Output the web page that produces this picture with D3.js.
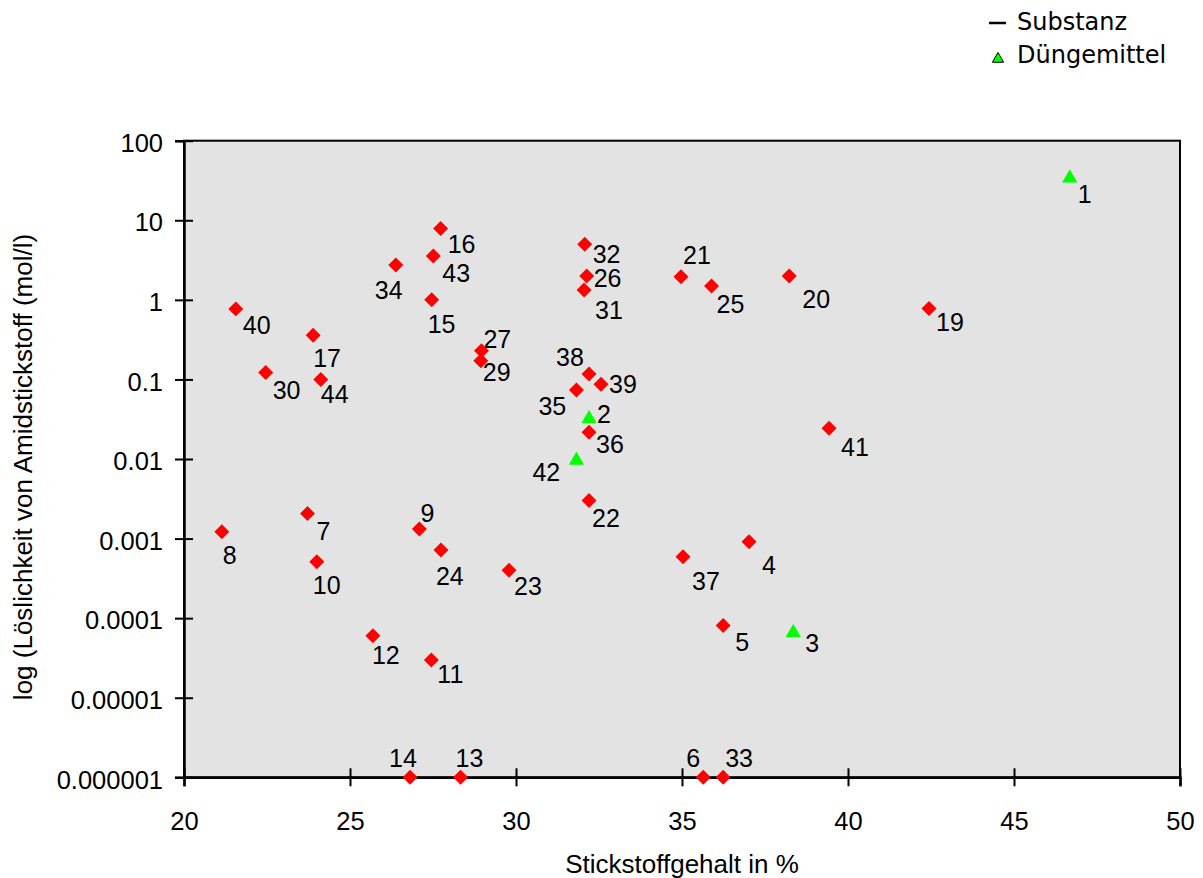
<!DOCTYPE html>
<html>
<head>
<meta charset="utf-8">
<script src="https://cdn.jsdelivr.net/npm/d3@7"></script>
<style>
  html, body { margin: 0; padding: 0; background: #fff; }
  svg { display: block; }
  text { font-family: "Liberation Sans", Arial, sans-serif; fill: #000; }
</style>
</head>
<body>
<svg id="chart" width="1203" height="878"></svg>
<script>
// ---- data ----
const substanzIds = [4,5,6,7,8,9,10,11,12,13,14,15,16,17,19,20,21,22,23,24,25,26,27,29,30,31,32,33,34,35,36,37,38,39,40,41,43,44];
const substanzN   = [37.02,36.24,35.64,23.72,21.14,27.09,24.00,27.45,25.69,28.33,26.81,27.46,27.73,23.89,42.44,38.23,34.97,32.20,29.79,27.74,35.89,32.13,28.96,28.94,22.46,32.05,32.07,36.24,26.38,31.82,32.20,35.03,32.20,32.56,21.56,39.43,27.51,24.12];
const substanzSol = [9.1e-4,8.1e-5,1e-6,2.06e-3,1.22e-3,1.32e-3,5.1e-4,2.98e-5,6.0e-5,1e-6,1e-6,1.0,7.9,0.36,0.78,2.0,1.95,3.0e-3,4.0e-4,7.2e-4,1.49,2.0,0.23,0.172,0.122,1.33,5.0,1e-6,2.74,0.0736,0.0217,5.9e-4,0.117,0.087,0.77,0.0243,3.56,0.10];

const duengerIds = [1,2,3,42];
const duengerN   = [46.68,32.20,38.35,31.82];
const duengerSol = [36,0.034,6.95e-5,0.0102];

const xTicks = [20,25,30,35,40,45,50];
const yTicks = [1e-6,1e-5,1e-4,1e-3,1e-2,0.1,1,10,100];
const yTickLabels = ["0.000001","0.00001","0.0001","0.001","0.01","0.1","1","10","100"];
const legendLabels = ["Substanz","Düngemittel"];
const xTitle = "Stickstoffgehalt in %";
const yTitle = "log (Löslichkeit von Amidstickstoff (mol/l)";

// label placement (offset of label start/baseline from its marker), by point id
const labelOffset = {
  1:[8,27], 2:[8,6], 3:[12,21], 4:[13,32], 5:[12,26], 6:[-17,-10], 7:[9,26], 8:[1,32],
  9:[1,-7], 10:[-4,32], 11:[6,23], 12:[-1,28], 13:[-5,-10], 14:[-21,-10], 15:[-4,33],
  16:[7,25], 17:[0,32], 19:[7,23], 20:[13,32], 21:[2,-13], 22:[3,26], 23:[5,25],
  24:[-5,35], 25:[5,27], 26:[7,11], 27:[2,-3], 29:[2,20], 30:[7,26], 31:[11,29],
  32:[8,19], 33:[2,-10], 34:[-21,34], 35:[-38,25], 36:[7,21], 37:[9,33], 38:[-33,-8],
  39:[8,9], 40:[7,25], 41:[12,28], 42:[-44,23], 43:[9,26], 44:[0,24]
};

// ---- layout ----
const plot = { left: 184, right: 1180, top: 140.7, bottom: 777.3 };
const svg = d3.select("#chart");

const x = d3.scaleLinear().domain([20, 50]).range([plot.left, plot.right]);
const y = d3.scaleLog().domain([1e-6, 100]).range([plot.bottom, plot.top]);

// plot background + frame
svg.append("rect")
  .attr("x", plot.left).attr("y", plot.top)
  .attr("width", plot.right - plot.left).attr("height", plot.bottom - plot.top)
  .attr("fill", "#e3e3e3").attr("stroke", "#000").attr("stroke-width", 2);

// axes
const fontSize = 25;
const tickFont = 25.5;
const xAxis = svg.append("g")
  .attr("transform", `translate(0,${plot.bottom})`)
  .call(d3.axisBottom(x).tickValues(xTicks).tickFormat(d3.format("d")).tickSize(9).tickPadding(26));
xAxis.select(".domain").attr("stroke-width", 2.5);
xAxis.selectAll(".tick line").attr("y1", -9).attr("y2", 9).attr("stroke-width", 2);
xAxis.selectAll(".tick text").attr("font-size", tickFont).attr("font-family", "Liberation Sans, Arial, sans-serif").attr("fill", "#000");

const yAxis = svg.append("g")
  .attr("transform", `translate(${plot.left},0)`)
  .call(d3.axisLeft(y).tickValues(yTicks).tickFormat((d, i) => yTickLabels[i]).tickSize(9).tickPadding(12));
yAxis.select(".domain").attr("stroke-width", 2.5);
yAxis.selectAll(".tick line").attr("x1", -9).attr("x2", 9).attr("stroke-width", 2);
yAxis.selectAll(".tick text").attr("font-size", tickFont).attr("font-family", "Liberation Sans, Arial, sans-serif").attr("fill", "#000").attr("dy", "0.42em");

// titles
svg.append("text")
  .attr("x", (plot.left + plot.right) / 2).attr("y", 873)
  .attr("text-anchor", "middle").attr("font-size", 26).text(xTitle);
svg.append("text")
  .attr("transform", "translate(32,467) rotate(-90)")
  .attr("text-anchor", "middle").attr("font-size", 26).text(yTitle);

// points
const substanz = substanzIds.map((id, i) => ({ id, n: substanzN[i], s: substanzSol[i] }));
const duenger = duengerIds.map((id, i) => ({ id, n: duengerN[i], s: duengerSol[i] }));

const diamond = d3.symbol().type(d3.symbolSquare).size(112);
const triangle = d3.symbol().type(d3.symbolTriangle).size(100);

svg.append("g").selectAll("path").data(substanz).join("path")
  .attr("d", diamond)
  .attr("transform", d => `translate(${x(d.n)},${y(d.s)}) rotate(45)`)
  .attr("fill", "#ff0000");

svg.append("g").selectAll("path").data(duenger).join("path")
  .attr("d", triangle)
  .attr("transform", d => `translate(${x(d.n)},${y(d.s) + 2})`)
  .attr("fill", "#00ff00");

// labels
svg.append("g").selectAll("text").data(substanz.concat(duenger)).join("text")
  .attr("x", d => x(d.n) + labelOffset[d.id][0])
  .attr("y", d => y(d.s) + labelOffset[d.id][1])
  .attr("font-size", fontSize)
  .text(d => d.id);

// legend
const legendFont = "'DejaVu Sans', sans-serif";
const lg = svg.append("g");
lg.append("line").attr("x1", 989).attr("x2", 1006).attr("y1", 23).attr("y2", 23)
  .attr("stroke", "#000").attr("stroke-width", 2.5);
lg.append("path")
  .attr("d", d3.symbol().type(d3.symbolTriangle).size(55)())
  .attr("transform", "translate(998,59)")
  .attr("fill", "#00ff00").attr("stroke", "#000").attr("stroke-width", 1);
lg.append("text").attr("x", 1017).attr("y", 30).attr("font-size", 24)
  .style("font-family", legendFont).text(legendLabels[0]);
lg.append("text").attr("x", 1017).attr("y", 63).attr("font-size", 24)
  .style("font-family", legendFont).text(legendLabels[1]);
</script>
</body>
</html>
